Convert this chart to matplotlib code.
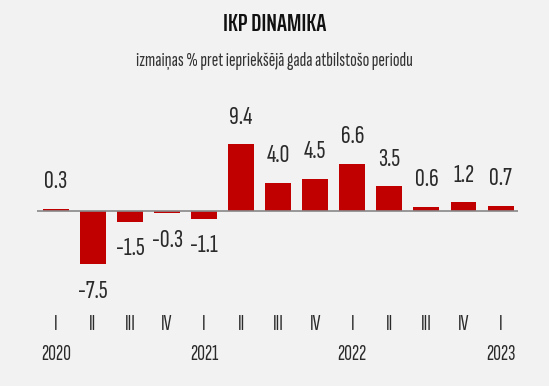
import matplotlib.pyplot as plt
from matplotlib.transforms import blended_transform_factory

quarters = ["I", "II", "III", "IV", "I", "II", "III", "IV", "I", "II", "III", "IV", "I"]
years = {0: "2020", 4: "2021", 8: "2022", 12: "2023"}
values = [0.3, -7.5, -1.5, -0.3, -1.1, 9.4, 4.0, 4.5, 6.6, 3.5, 0.6, 1.2, 0.7]

bg = "#f2f2f2"
bar_color = "#c00000"
plt.rcParams["font.family"] = ["Sofia Sans Extra Condensed", "DejaVu Sans"]

fig = plt.figure(figsize=(5.49, 3.86), dpi=100)
fig.patch.set_facecolor(bg)

W, H = 549, 386
ax = fig.add_axes([37 / W, (H - 300) / H, (518 - 37) / W, 210 / H])
ax.set_facecolor(bg)

x = list(range(len(values)))
ax.bar(x, values, width=0.7, color=bar_color, zorder=2)
ax.axhline(0, color="#888888", linewidth=1.2, zorder=3)
ax.set_xlim(-0.51, 12.47)
ax.set_ylim(-12.5, 17.0)
ax.axis("off")

for xi, v in zip(x, values):
    off = 19.5 if v >= 0 else -19.5
    ax.annotate(f"{v:.1f}", (xi, v), xytext=(0, off), textcoords="offset points",
                ha="center", va="center", fontsize=19.5, color="#2a2a2a")

tr = blended_transform_factory(ax.transData, fig.transFigure)
for xi, q in zip(x, quarters):
    ax.text(xi, 1 - 325 / H, q, transform=tr, ha="center", va="center",
            fontsize=15.5, color="#2a2a2a")
for xi, y in years.items():
    ax.text(xi, 1 - 354 / H, y, transform=tr, ha="center", va="center",
            fontsize=15.5, color="#2a2a2a")

fig.text(0.5, 1 - 24 / H, "IKP DINAMIKA", ha="center", va="center",
         fontsize=17.5, fontweight=600, color="#111111",
         family=["Saira ExtraCondensed", "DejaVu Sans"])
fig.text(0.5, 1 - 61 / H, "izmaiņas % pret iepriekšējā gada atbilstošo periodu",
         ha="center", va="center", fontsize=14.3, color="#333333")

fig.savefig("out.png", dpi=100, facecolor=bg)
